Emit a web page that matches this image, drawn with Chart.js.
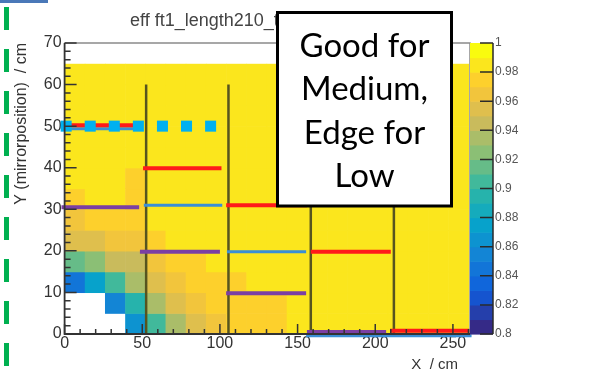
<!DOCTYPE html>
<html lang="en">
<head>
<meta charset="UTF-8">
<title>eff ft1_length210</title>
<script src="https://cdn.jsdelivr.net/npm/chart.js"></script>
<style>
  html, body { margin: 0; padding: 0; background: #fff; }
  canvas { display: block; }
</style>
</head>
<body>
<canvas id="effChart" width="589" height="372"></canvas>
<script>
// binning of the efficiency map (cm)
const xBinWidth = 13;
const yBinWidth = 5;

// efficiency per bin, first row is y = 0..5, null = no entries
const effRows = [
  [null, null, null, 0.865, 0.905, 0.935, 0.955, 0.965, 0.975, 0.975, 0.975, 0.985, 0.985, 0.985, 0.985, 0.985, 0.985, 0.985, 0.985, 0.985],
  [null, null, 0.855, 0.895, 0.935, 0.95, 0.965, 0.975, 0.975, 0.975, 0.975, 0.985, 0.985, 0.985, 0.985, 0.985, 0.985, 0.985, 0.985, 0.985],
  [0.845, 0.875, 0.905, 0.935, 0.955, 0.965, 0.975, 0.975, 0.975, 0.985, 0.985, 0.985, 0.985, 0.985, 0.985, 0.985, 0.985, 0.985, 0.985, 0.985],
  [0.915, 0.925, 0.945, 0.945, 0.965, 0.975, 0.975, 0.985, 0.985, 0.985, 0.985, 0.985, 0.985, 0.985, 0.985, 0.985, 0.985, 0.985, 0.985, 0.985],
  [0.955, 0.955, 0.965, 0.965, 0.975, 0.985, 0.985, 0.985, 0.985, 0.985, 0.985, 0.985, 0.985, 0.985, 0.985, 0.985, 0.985, 0.985, 0.985, 0.985],
  [0.965, 0.975, 0.975, 0.975, 0.985, 0.985, 0.985, 0.985, 0.985, 0.985, 0.985, 0.985, 0.985, 0.985, 0.985, 0.985, 0.985, 0.985, 0.985, 0.985],
  [0.975, 0.985, 0.985, 0.975, 0.985, 0.985, 0.985, 0.985, 0.985, 0.985, 0.985, 0.985, 0.985, 0.985, 0.985, 0.985, 0.985, 0.985, 0.985, 0.985],
  [0.985, 0.985, 0.985, 0.975, 0.985, 0.985, 0.985, 0.985, 0.985, 0.985, 0.985, 0.985, 0.985, 0.985, 0.985, 0.985, 0.985, 0.985, 0.985, 0.985],
  [0.985, 0.985, 0.985, 0.985, 0.985, 0.985, 0.985, 0.985, 0.985, 0.985, 0.985, 0.985, 0.985, 0.985, 0.985, 0.985, 0.985, 0.985, 0.985, 0.985],
  [0.985, 0.985, 0.985, 0.985, 0.985, 0.985, 0.985, 0.985, 0.985, 0.985, 0.985, 0.985, 0.985, 0.985, 0.985, 0.985, 0.985, 0.985, 0.985, 0.985],
  [0.985, 0.985, 0.985, 0.985, 0.985, 0.985, 0.985, 0.985, 0.985, 0.985, 0.985, 0.985, 0.985, 0.985, 0.985, 0.985, 0.985, 0.985, 0.985, 0.985],
  [0.985, 0.985, 0.985, 0.985, 0.985, 0.985, 0.985, 0.985, 0.985, 0.985, 0.985, 0.985, 0.985, 0.985, 0.985, 0.985, 0.985, 0.985, 0.985, 0.985],
  [0.985, 0.985, 0.985, 0.985, 0.985, 0.985, 0.985, 0.985, 0.985, 0.985, 0.985, 0.985, 0.985, 0.985, 0.985, 0.985, 0.985, 0.985, 0.985, 0.985]
];

const xTicks = [0, 50, 100, 150, 200, 250];
const yTicks = [0, 10, 20, 30, 40, 50, 60, 70];
const zTicks = [0.8, 0.82, 0.84, 0.86, 0.88, 0.9, 0.92, 0.94, 0.96, 0.98, 1];

// run boundaries, drawn from y = 0 up to dividerTop
const dividerX = [52.5, 105.5, 158.5, 212];
const dividerTop = 60;

// horizontal ranges as [y, xFrom, xTo]
const redRanges = [[50.2, 0, 47], [39.9, 50.5, 101], [31, 104, 156], [19.8, 158.5, 210], [0.8, 209.5, 261]];
const purpleRanges = [[30.5, -2, 48], [19.8, 48.5, 100], [9.8, 104, 155.5], [0.5, 156, 207]];
const blueRanges = [[49.4, 0, 47], [31, 51, 101.5], [19.8, 104.5, 155.5], [-0.4, 155.5, 262]];

// square markers along y = 50
const markerX = [1, 16.5, 32, 47.5, 63, 78.5, 94];
const markerY = 50;

const boxLines = ['Good for', 'Medium,', 'Edge for', 'Low'];
const histTitle = 'eff ft1_length210_thk_hit22';

// ROOT "bird" palette, 20 contour levels between zMin and zMax
const zMin = 0.8, zMax = 1, nLevels = 20;
const birdStops = [0, 0.125, 0.25, 0.375, 0.5, 0.625, 0.75, 0.875, 1];
const birdRGB = [[53, 42, 135], [15, 92, 221], [20, 129, 214], [6, 164, 202], [46, 183, 164],
                 [135, 191, 119], [209, 187, 89], [254, 200, 50], [249, 251, 14]];

function bird(t) {
  let i = 0;
  while (i < birdStops.length - 2 && t > birdStops[i + 1]) i++;
  const f = (t - birdStops[i]) / (birdStops[i + 1] - birdStops[i]);
  const c = birdRGB[i].map((v, k) => Math.round(v + (birdRGB[i + 1][k] - v) * f));
  return `rgb(${c[0]},${c[1]},${c[2]})`;
}

function levelColour(v) {
  let k = Math.floor((v - zMin) / (zMax - zMin) * nLevels + 1e-9);
  k = Math.max(0, Math.min(nLevels - 1, k));
  return bird(k / (nLevels - 1));
}

function rangePoints(ranges) {
  const pts = [];
  ranges.forEach(([y, x0, x1]) => {
    pts.push({x: x0, y: y}, {x: x1, y: y}, {x: x1, y: null});
  });
  return pts;
}

function dividerPoints(xs, top) {
  const pts = [];
  xs.forEach(x => pts.push({x: x, y: 0}, {x: x, y: top}, {x: x, y: null}));
  return pts;
}

const axisFont = {family: "'Liberation Sans', Arial, sans-serif", size: 16};
const fontFamily = "'Liberation Sans', Arial, sans-serif";

const effPlugin = {
  id: 'effMap',
  beforeDatasetsDraw(chart) {
    const {ctx, scales: {x, y}} = chart;
    ctx.save();
    effRows.forEach((row, j) => {
      row.forEach((v, i) => {
        if (v === null) return;
        const px0 = x.getPixelForValue(i * xBinWidth);
        const px1 = x.getPixelForValue((i + 1) * xBinWidth);
        const py0 = y.getPixelForValue(j * yBinWidth);
        const py1 = y.getPixelForValue((j + 1) * yBinWidth);
        ctx.fillStyle = levelColour(v);
        ctx.fillRect(px0, py1, px1 - px0 + 0.6, py0 - py1 + 0.6);
      });
    });
    ctx.restore();
  },
  afterDatasetsDraw(chart) {
    const {ctx, chartArea: a, scales: {x, y}} = chart;
    ctx.save();
    // frame
    ctx.strokeStyle = '#8a8a8a';
    ctx.lineWidth = 1.5;
    ctx.beginPath();
    ctx.moveTo(a.left, a.top); ctx.lineTo(a.right, a.top); ctx.lineTo(a.right, a.bottom);
    ctx.stroke();
    ctx.strokeStyle = '#333';
    ctx.lineWidth = 1.8;
    ctx.beginPath();
    ctx.moveTo(a.left, a.top); ctx.lineTo(a.left, a.bottom); ctx.lineTo(a.right, a.bottom);
    ctx.stroke();
    // tick marks inside the frame
    ctx.lineWidth = 1.5;
    ctx.beginPath();
    for (let v = 0; v <= 70; v += 2) {
      const py = y.getPixelForValue(v);
      const len = v % 10 === 0 ? 12 : 6;
      ctx.moveTo(a.left, py); ctx.lineTo(a.left + len, py);
    }
    for (let v = 0; v <= 260; v += 10) {
      const px = x.getPixelForValue(v);
      const len = v % 50 === 0 ? 10 : 5;
      ctx.moveTo(px, a.bottom); ctx.lineTo(px, a.bottom - len);
    }
    ctx.stroke();
    ctx.restore();
  },
  afterDraw(chart) {
    const {ctx, chartArea: a, scales: {cb}} = chart;
    ctx.save();

    // colour bar
    const barL = a.right, barR = a.right + 23;
    for (let k = 0; k < nLevels; k++) {
      const lo = zMin + (zMax - zMin) * k / nLevels;
      const hi = zMin + (zMax - zMin) * (k + 1) / nLevels;
      const yLo = cb.getPixelForValue(lo), yHi = cb.getPixelForValue(hi);
      ctx.fillStyle = bird(k / (nLevels - 1));
      ctx.fillRect(barL, yHi, barR - barL, yLo - yHi + 0.6);
    }
    ctx.strokeStyle = '#2a2a2a';
    ctx.lineWidth = 1.5;
    ctx.beginPath();
    ctx.moveTo(barR, cb.getPixelForValue(zMax)); ctx.lineTo(barR, cb.getPixelForValue(zMin));
    zTicks.forEach(v => {
      const py = cb.getPixelForValue(v);
      ctx.moveTo(barR - 13, py); ctx.lineTo(barR, py);
    });
    ctx.stroke();

    // axis titles
    ctx.fillStyle = '#333';
    ctx.font = `15px ${fontFamily}`;
    ctx.textAlign = 'right';
    ctx.textBaseline = 'alphabetic';
    ctx.fillText('X  / cm', 458, 369);
    ctx.save();
    ctx.translate(21.5, a.top);
    ctx.rotate(-Math.PI / 2);
    ctx.textBaseline = 'middle';
    ctx.font = `16px ${fontFamily}`;
    ctx.fillText('Y (mirrorposition)  / cm', 0, 0);
    ctx.restore();

    // histogram title
    ctx.fillStyle = '#444';
    ctx.font = `18px ${fontFamily}`;
    ctx.textAlign = 'left';
    ctx.fillText(histTitle, 130, 26);

    // annotation box
    ctx.fillStyle = '#fff';
    ctx.fillRect(277.5, 12.5, 174, 193.5);
    ctx.strokeStyle = '#000';
    ctx.lineWidth = 3;
    ctx.strokeRect(277.5, 12.5, 174, 193.5);
    ctx.fillStyle = '#000';
    ctx.font = '33px Lato, sans-serif';
    ctx.textAlign = 'center';
    boxLines.forEach((t, i) => ctx.fillText(t, 364.5, 57 + i * 43.3));

    // slide decorations on the left
    ctx.strokeStyle = '#00b050';
    ctx.lineWidth = 5;
    ctx.setLineDash([23, 19]);
    ctx.beginPath();
    ctx.moveTo(6.5, 7); ctx.lineTo(6.5, 372);
    ctx.stroke();
    ctx.setLineDash([]);
    ctx.fillStyle = '#4a78b8';
    ctx.fillRect(0, 0, 48, 3);

    ctx.restore();
  }
};

new Chart(document.getElementById('effChart'), {
  type: 'scatter',
  data: {
    datasets: [
      {
        label: 'run boundaries',
        data: dividerPoints(dividerX, dividerTop),
        showLine: true, borderColor: '#57541f', borderWidth: 2.5,
        pointRadius: 0, clip: false, order: 5, yAxisID: 'y'
      },
      {
        label: 'blue',
        data: rangePoints(blueRanges),
        showLine: true, borderColor: '#3a8fd6', borderWidth: 3,
        pointRadius: 0, clip: false, order: 4, yAxisID: 'y'
      },
      {
        label: 'purple',
        data: rangePoints(purpleRanges),
        showLine: true, borderColor: '#7b3fa3', borderWidth: 4,
        pointRadius: 0, clip: false, order: 3, yAxisID: 'y'
      },
      {
        label: 'red',
        data: rangePoints(redRanges),
        showLine: true, borderColor: '#ff1a1a', borderWidth: 4,
        pointRadius: 0, clip: false, order: 2, yAxisID: 'y'
      },
      {
        label: 'markers',
        data: markerX.map(x => ({x: x, y: markerY})),
        showLine: false, pointStyle: 'rect', pointRadius: 7.8,
        backgroundColor: '#00b0f0', borderColor: '#00b0f0', borderWidth: 0,
        clip: false, order: 1, yAxisID: 'y'
      }
    ]
  },
  options: {
    responsive: false,
    animation: false,
    devicePixelRatio: 1,
    events: [],
    layout: {padding: {top: 43, left: 0, right: 0, bottom: 0}},
    plugins: {legend: {display: false}, tooltip: {enabled: false}},
    scales: {
      x: {
        type: 'linear', min: 0, max: 261,
        grid: {display: false, drawTicks: false}, border: {display: false},
        ticks: {font: axisFont, color: '#333', padding: 0, maxRotation: 0},
        afterBuildTicks: s => { s.ticks = xTicks.map(v => ({value: v})); },
        afterFit: s => { s.height = 38; }
      },
      y: {
        type: 'linear', min: 0, max: 70,
        grid: {display: false, drawTicks: false}, border: {display: false},
        ticks: {font: axisFont, color: '#333', padding: 3},
        afterBuildTicks: s => { s.ticks = yTicks.map(v => ({value: v})); },
        afterFit: s => { s.width = 64.6; }
      },
      cb: {
        axis: 'y', type: 'linear', position: 'right', min: zMin, max: zMax,
        grid: {display: false, drawTicks: false}, border: {display: false},
        ticks: {
          font: {family: "'Liberation Sans', Arial, sans-serif", size: 12},
          color: '#555', padding: 25,
          callback: v => String(Math.round(v * 100) / 100)
        },
        afterBuildTicks: s => { s.ticks = zTicks.map(v => ({value: v})); },
        afterFit: s => { s.width = 119; }
      }
    }
  },
  plugins: [effPlugin]
});
</script>
</body>
</html>
